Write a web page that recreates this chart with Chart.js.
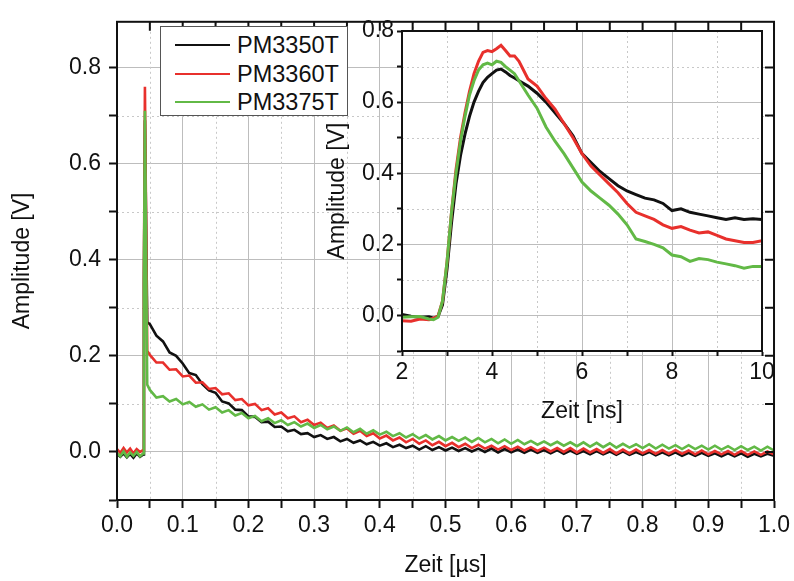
<!DOCTYPE html>
<html>
<head>
<meta charset="utf-8">
<script src="https://cdn.jsdelivr.net/npm/chart.js@4.4.0/dist/chart.umd.min.js"></script>
<style>
  body { margin: 0; background: #fff; }
  #wrap { position: relative; width: 794px; height: 581px; font-family: "Liberation Sans", Arial, sans-serif; }
  #main { position: absolute; left: 0; top: 0; }
  #inset { position: absolute; left: 300px; top: 10px; }
  #legend { position: absolute; left: 160px; top: 26px; width: 186px; height: 88px;
            border: 1.5px solid #555; background: #fff; }
  #legend .row { position: absolute; left: 0; height: 26px; line-height: 26px; font-size: 23.5px; color: #111; white-space: nowrap; }
  #legend .swatch { position: absolute; left: 14px; top: 12px; width: 55px; height: 2px; }
  #legend .lbl { position: absolute; left: 76px; top: 0; }
</style>
</head>
<body>
<div id="wrap">
  <canvas id="main" width="794" height="581"></canvas>
  <canvas id="inset" width="480" height="420"></canvas>
  <div id="legend"></div>
</div>
<script>
// series names / colours
var seriesNames = ['PM3350T', 'PM3360T', 'PM3375T'];
var seriesColors = ['#111111', '#e8302c', '#62b946'];

// main plot: time in µs
var mainTime = [0, 0.005, 0.01, 0.015, 0.02, 0.025, 0.03, 0.035, 0.04, 0.041, 0.0425, 0.046,
  0.05, 0.06, 0.07, 0.08, 0.09, 0.10, 0.11, 0.12, 0.13, 0.14,
  0.15, 0.16, 0.17, 0.18, 0.19, 0.20, 0.21, 0.22, 0.23, 0.24,
  0.25, 0.26, 0.27, 0.28, 0.29, 0.30, 0.31, 0.32, 0.33, 0.34,
  0.35, 0.36, 0.37, 0.38, 0.39, 0.40, 0.41, 0.42, 0.43, 0.44,
  0.45, 0.46, 0.47, 0.48, 0.49, 0.50, 0.51, 0.52, 0.53, 0.54,
  0.55, 0.56, 0.57, 0.58, 0.59, 0.60, 0.61, 0.62, 0.63, 0.64,
  0.65, 0.66, 0.67, 0.68, 0.69, 0.70, 0.71, 0.72, 0.73, 0.74,
  0.75, 0.76, 0.77, 0.78, 0.79, 0.80, 0.81, 0.82, 0.83, 0.84,
  0.85, 0.86, 0.87, 0.88, 0.89, 0.90, 0.91, 0.92, 0.93, 0.94,
  0.95, 0.96, 0.97, 0.98, 0.99, 1.00];

var mainPM3350T = [-0.004, -0.010, -0.003, -0.011, -0.004, -0.012, -0.003, -0.010, -0.005, 0.35, 0.69, 0.27,
  0.266, 0.242, 0.230, 0.207, 0.200, 0.184, 0.164, 0.160, 0.141, 0.128,
  0.123, 0.105, 0.101, 0.088, 0.087, 0.074, 0.073, 0.062, 0.063, 0.052,
  0.053, 0.043, 0.046, 0.037, 0.039, 0.031, 0.035, 0.027, 0.031, 0.022,
  0.027, 0.019, 0.024, 0.016, 0.021, 0.013, 0.018, 0.010, 0.015, 0.008,
  0.013, 0.005, 0.012, 0.004, 0.010, 0.003, 0.009, 0.002, 0.008, 0.001,
  0.007, 0.000, 0.007, -0.001, 0.006, -0.001, 0.005, -0.002, 0.005, -0.002,
  0.004, -0.003, 0.004, -0.004, 0.003, -0.004, 0.002, -0.005, 0.002, -0.005,
  0.001, -0.006, 0.001, -0.006, 0.000, -0.006, 0.000, -0.007, -0.001, -0.007,
  -0.001, -0.008, -0.002, -0.008, -0.002, -0.008, -0.003, -0.009, -0.003, -0.009,
  -0.003, -0.010, -0.004, -0.009, -0.004, -0.008];

var mainPM3360T = [0.006, -0.002, 0.008, -0.001, 0.007, -0.003, 0.006, 0.000, 0.004, 0.38, 0.76, 0.21,
  0.202, 0.186, 0.186, 0.171, 0.172, 0.157, 0.159, 0.144, 0.145, 0.131,
  0.133, 0.120, 0.122, 0.108, 0.110, 0.097, 0.100, 0.087, 0.091, 0.078,
  0.082, 0.070, 0.074, 0.062, 0.067, 0.056, 0.061, 0.050, 0.055, 0.044,
  0.049, 0.038, 0.044, 0.033, 0.039, 0.028, 0.034, 0.024, 0.030, 0.020,
  0.027, 0.017, 0.024, 0.014, 0.021, 0.012, 0.019, 0.010, 0.017, 0.008,
  0.015, 0.007, 0.013, 0.005, 0.012, 0.004, 0.011, 0.003, 0.010, 0.002,
  0.009, 0.001, 0.008, 0.000, 0.008, -0.001, 0.007, -0.001, 0.006, -0.002,
  0.006, -0.003, 0.005, -0.003, 0.005, -0.003, 0.004, -0.004, 0.004, -0.004,
  0.004, -0.004, 0.003, -0.005, 0.003, -0.005, 0.002, -0.005, 0.002, -0.006,
  0.002, -0.006, 0.001, -0.006, 0.001, -0.005];

var mainPM3375T = [-0.002, -0.009, 0.001, -0.010, -0.001, -0.008, 0.000, -0.009, -0.003, 0.36, 0.71, 0.14,
  0.129, 0.113, 0.116, 0.105, 0.110, 0.099, 0.104, 0.094, 0.099, 0.088,
  0.093, 0.082, 0.087, 0.076, 0.081, 0.070, 0.075, 0.064, 0.070, 0.060,
  0.066, 0.056, 0.062, 0.053, 0.059, 0.050, 0.056, 0.047, 0.053, 0.044,
  0.051, 0.041, 0.048, 0.038, 0.045, 0.036, 0.042, 0.033, 0.039, 0.030,
  0.037, 0.028, 0.035, 0.026, 0.033, 0.024, 0.031, 0.023, 0.030, 0.021,
  0.029, 0.020, 0.027, 0.018, 0.026, 0.017, 0.025, 0.016, 0.023, 0.015,
  0.022, 0.014, 0.021, 0.013, 0.020, 0.012, 0.020, 0.011, 0.019, 0.010,
  0.018, 0.009, 0.017, 0.009, 0.016, 0.008, 0.016, 0.007, 0.015, 0.007,
  0.014, 0.006, 0.014, 0.006, 0.013, 0.005, 0.013, 0.005, 0.012, 0.004,
  0.012, 0.004, 0.011, 0.003, 0.011, 0.003];

// inset: time in ns
var insetTime = [2.0, 2.2, 2.4, 2.6, 2.7, 2.8, 2.9, 3.0, 3.1, 3.2, 3.3, 3.4, 3.5, 3.6, 3.7, 3.8, 3.9, 4.0, 4.1, 4.2, 4.3, 4.4, 4.5, 4.6,
  4.8, 5.0, 5.2, 5.4, 5.6, 5.8, 6.0, 6.2, 6.4, 6.6, 6.8, 7.0, 7.2, 7.4, 7.6, 7.8, 8.0, 8.2, 8.4, 8.6, 8.8, 9.0, 9.2, 9.4, 9.6, 9.8, 10.0];

var insetPM3350T = [0.003, -0.002, -0.005, -0.004, -0.008, -0.003, 0.03, 0.13, 0.26, 0.37, 0.45, 0.51, 0.56, 0.60, 0.63, 0.655, 0.67, 0.68, 0.69, 0.693, 0.685, 0.675, 0.668, 0.66,
  0.645, 0.625, 0.60, 0.57, 0.54, 0.505, 0.455, 0.43, 0.405, 0.385, 0.365, 0.35, 0.34, 0.33, 0.325, 0.315, 0.295, 0.30, 0.29, 0.285, 0.28, 0.275, 0.27, 0.275, 0.27, 0.272, 0.27];
var insetPM3360T = [-0.015, -0.016, -0.010, -0.012, -0.008, -0.002, 0.04, 0.15, 0.29, 0.41, 0.50, 0.57, 0.63, 0.68, 0.715, 0.74, 0.745, 0.742, 0.75, 0.76, 0.745, 0.73, 0.73, 0.715,
  0.665, 0.645, 0.61, 0.58, 0.54, 0.50, 0.455, 0.42, 0.395, 0.37, 0.345, 0.315, 0.29, 0.28, 0.27, 0.255, 0.245, 0.25, 0.24, 0.232, 0.235, 0.225, 0.215, 0.21, 0.205, 0.205, 0.21];
var insetPM3375T = [-0.005, -0.004, -0.003, -0.010, -0.012, -0.005, 0.04, 0.15, 0.29, 0.40, 0.49, 0.56, 0.62, 0.66, 0.69, 0.705, 0.71, 0.705, 0.715, 0.712, 0.70, 0.69, 0.68, 0.66,
  0.62, 0.583, 0.53, 0.49, 0.455, 0.415, 0.375, 0.35, 0.33, 0.31, 0.285, 0.255, 0.215, 0.208, 0.20, 0.19, 0.17, 0.165, 0.152, 0.16, 0.157, 0.15, 0.145, 0.14, 0.133, 0.138, 0.138];

// ticks
var mainXTicks = [0, 0.05, 0.1, 0.15, 0.2, 0.25, 0.3, 0.35, 0.4, 0.45, 0.5, 0.55, 0.6, 0.65, 0.7, 0.75, 0.8, 0.85, 0.9, 0.95, 1.0];
var mainXLabels = [0, 0.1, 0.2, 0.3, 0.4, 0.5, 0.6, 0.7, 0.8, 0.9, 1.0];
var mainYTicks = [-0.1, 0, 0.1, 0.2, 0.3, 0.4, 0.5, 0.6, 0.7, 0.8];
var mainYLabels = [0, 0.2, 0.4, 0.6, 0.8];
var insetXTicks = [2, 3, 4, 5, 6, 7, 8, 9, 10];
var insetXLabels = [2, 4, 6, 8, 10];
var insetYTicks = [-0.1, 0, 0.1, 0.2, 0.3, 0.4, 0.5, 0.6, 0.7, 0.8];
var insetYLabels = [0, 0.2, 0.4, 0.6, 0.8];

var FONT = { family: '"Liberation Sans", Arial, sans-serif', size: 23 };

function isLabeled(list, v) {
  return list.some(function (l) { return Math.abs(l - v) < 1e-9; });
}

function pts(t, v) {
  return t.map(function (x, i) { return { x: x, y: v[i] }; });
}

// white plot background (inset), dotted minor grid, closed frame with mirrored ticks
var framePlugin = {
  id: 'frame',
  beforeDraw: function (chart, args, opts) {
    if (!opts.fill) return;
    var a = chart.chartArea, ctx = chart.ctx;
    ctx.save();
    ctx.fillStyle = '#fff';
    ctx.fillRect(a.left, a.top, a.right - a.left, a.bottom - a.top);
    ctx.restore();
  },
  beforeDatasetsDraw: function (chart) {
    var a = chart.chartArea, ctx = chart.ctx, sx = chart.scales.x, sy = chart.scales.y;
    ctx.save();
    ctx.strokeStyle = '#c8c8c8';
    ctx.lineWidth = 1;
    ctx.setLineDash([2, 3]);
    ctx.beginPath();
    sx.ticks.forEach(function (t) {
      if (t.label !== '') return;
      var p = Math.round(sx.getPixelForValue(t.value)) + 0.5;
      ctx.moveTo(p, a.top); ctx.lineTo(p, a.bottom);
    });
    sy.ticks.forEach(function (t) {
      if (t.label !== '') return;
      var p = Math.round(sy.getPixelForValue(t.value)) + 0.5;
      ctx.moveTo(a.left, p); ctx.lineTo(a.right, p);
    });
    ctx.stroke();
    ctx.restore();
  },
  afterDraw: function (chart, args, opts) {
    var a = chart.chartArea, ctx = chart.ctx, sx = chart.scales.x, sy = chart.scales.y;
    ctx.save();
    ctx.strokeStyle = '#111';
    ctx.lineWidth = 2;
    ctx.strokeRect(a.left, a.top, a.right - a.left, a.bottom - a.top);
    if (opts.mirror) {
      ctx.beginPath();
      sx.ticks.forEach(function (t) {
        var p = sx.getPixelForValue(t.value);
        ctx.moveTo(p, a.top); ctx.lineTo(p, a.top + 9);
      });
      sy.ticks.forEach(function (t) {
        var p = sy.getPixelForValue(t.value);
        ctx.moveTo(a.right, p); ctx.lineTo(a.right - 9, p);
      });
      ctx.stroke();
    }
    ctx.restore();
  }
};

function axis(opts) {
  var labels = opts.labels;
  return {
    type: 'linear',
    min: opts.min,
    max: opts.max,
    afterBuildTicks: function (s) { s.ticks = opts.ticks.map(function (v) { return { value: v }; }); },
    afterFit: opts.fit,
    ticks: {
      font: FONT, color: '#111', padding: opts.pad, autoSkip: false, maxRotation: 0,
      callback: function (v) { return isLabeled(labels, v) ? v.toFixed(opts.dec) : ''; }
    },
    grid: {
      color: function (c) {
        if (!c.tick) return '#bdbdbd';
        return isLabeled(labels, c.tick.value) ? '#bdbdbd' : 'rgba(0,0,0,0)';
      },
      lineWidth: 1,
      tickLength: opts.tickLen,
      tickColor: '#111',
      tickWidth: 2
    },
    border: { color: '#111', width: 2 },
    title: { display: true, text: opts.title, font: FONT, color: '#111', padding: opts.titlePad }
  };
}

function datasets(t, arrs, width) {
  return arrs.map(function (a, i) {
    return {
      label: seriesNames[i],
      data: pts(t, a),
      borderColor: seriesColors[i],
      borderWidth: width,
      pointRadius: 0,
      tension: 0,
      order: 3 - i
    };
  });
}

new Chart(document.getElementById('main'), {
  type: 'line',
  data: { datasets: datasets(mainTime, [mainPM3350T, mainPM3360T, mainPM3375T], 2.6) },
  options: {
    responsive: false,
    animation: false,
    layout: { padding: { left: 0, right: 17, top: 13, bottom: 0 } },
    scales: {
      x: axis({ min: 0, max: 1, ticks: mainXTicks, labels: mainXLabels, dec: 1, pad: 4, tickLen: 8,
                title: 'Zeit [µs]', titlePad: { top: 0, bottom: 2 },
                fit: function (s) { s.height = 81; } }),
      y: axis({ min: -0.1, max: 0.895, ticks: mainYTicks, labels: mainYLabels, dec: 1, pad: 8, tickLen: 8,
                title: 'Amplitude [V]', titlePad: { top: 9, bottom: 0 },
                fit: function (s) { s.width = 117; } })
    },
    plugins: { legend: { display: false }, tooltip: { enabled: false }, frame: { mirror: true } }
  },
  plugins: [framePlugin]
});

new Chart(document.getElementById('inset'), {
  type: 'line',
  data: { datasets: datasets(insetTime, [insetPM3350T, insetPM3360T, insetPM3375T], 3) },
  options: {
    responsive: false,
    animation: false,
    layout: { padding: { left: 0, right: 18, top: 21, bottom: 0 } },
    scales: {
      x: axis({ min: 2, max: 10, ticks: insetXTicks, labels: insetXLabels, dec: 0, pad: 3, tickLen: 5,
                title: 'Zeit [ns]', titlePad: { top: 0, bottom: 5 },
                fit: function (s) { s.height = 79; } }),
      y: axis({ min: -0.1, max: 0.8, ticks: insetYTicks, labels: insetYLabels, dec: 1, pad: 3, tickLen: 5,
                title: 'Amplitude [V]', titlePad: { top: 24, bottom: 0 },
                fit: function (s) { s.width = 102; } })
    },
    plugins: { legend: { display: false }, tooltip: { enabled: false }, frame: { fill: true, mirror: false } }
  },
  plugins: [framePlugin]
});

// legend
var legend = document.getElementById('legend');
seriesNames.forEach(function (name, i) {
  var row = document.createElement('div');
  row.className = 'row';
  row.style.top = (5 + i * 28.5) + 'px';
  row.innerHTML = '<span class="swatch" style="background:' + seriesColors[i] + '"></span><span class="lbl">' + name + '</span>';
  legend.appendChild(row);
});
</script>
</body>
</html>
